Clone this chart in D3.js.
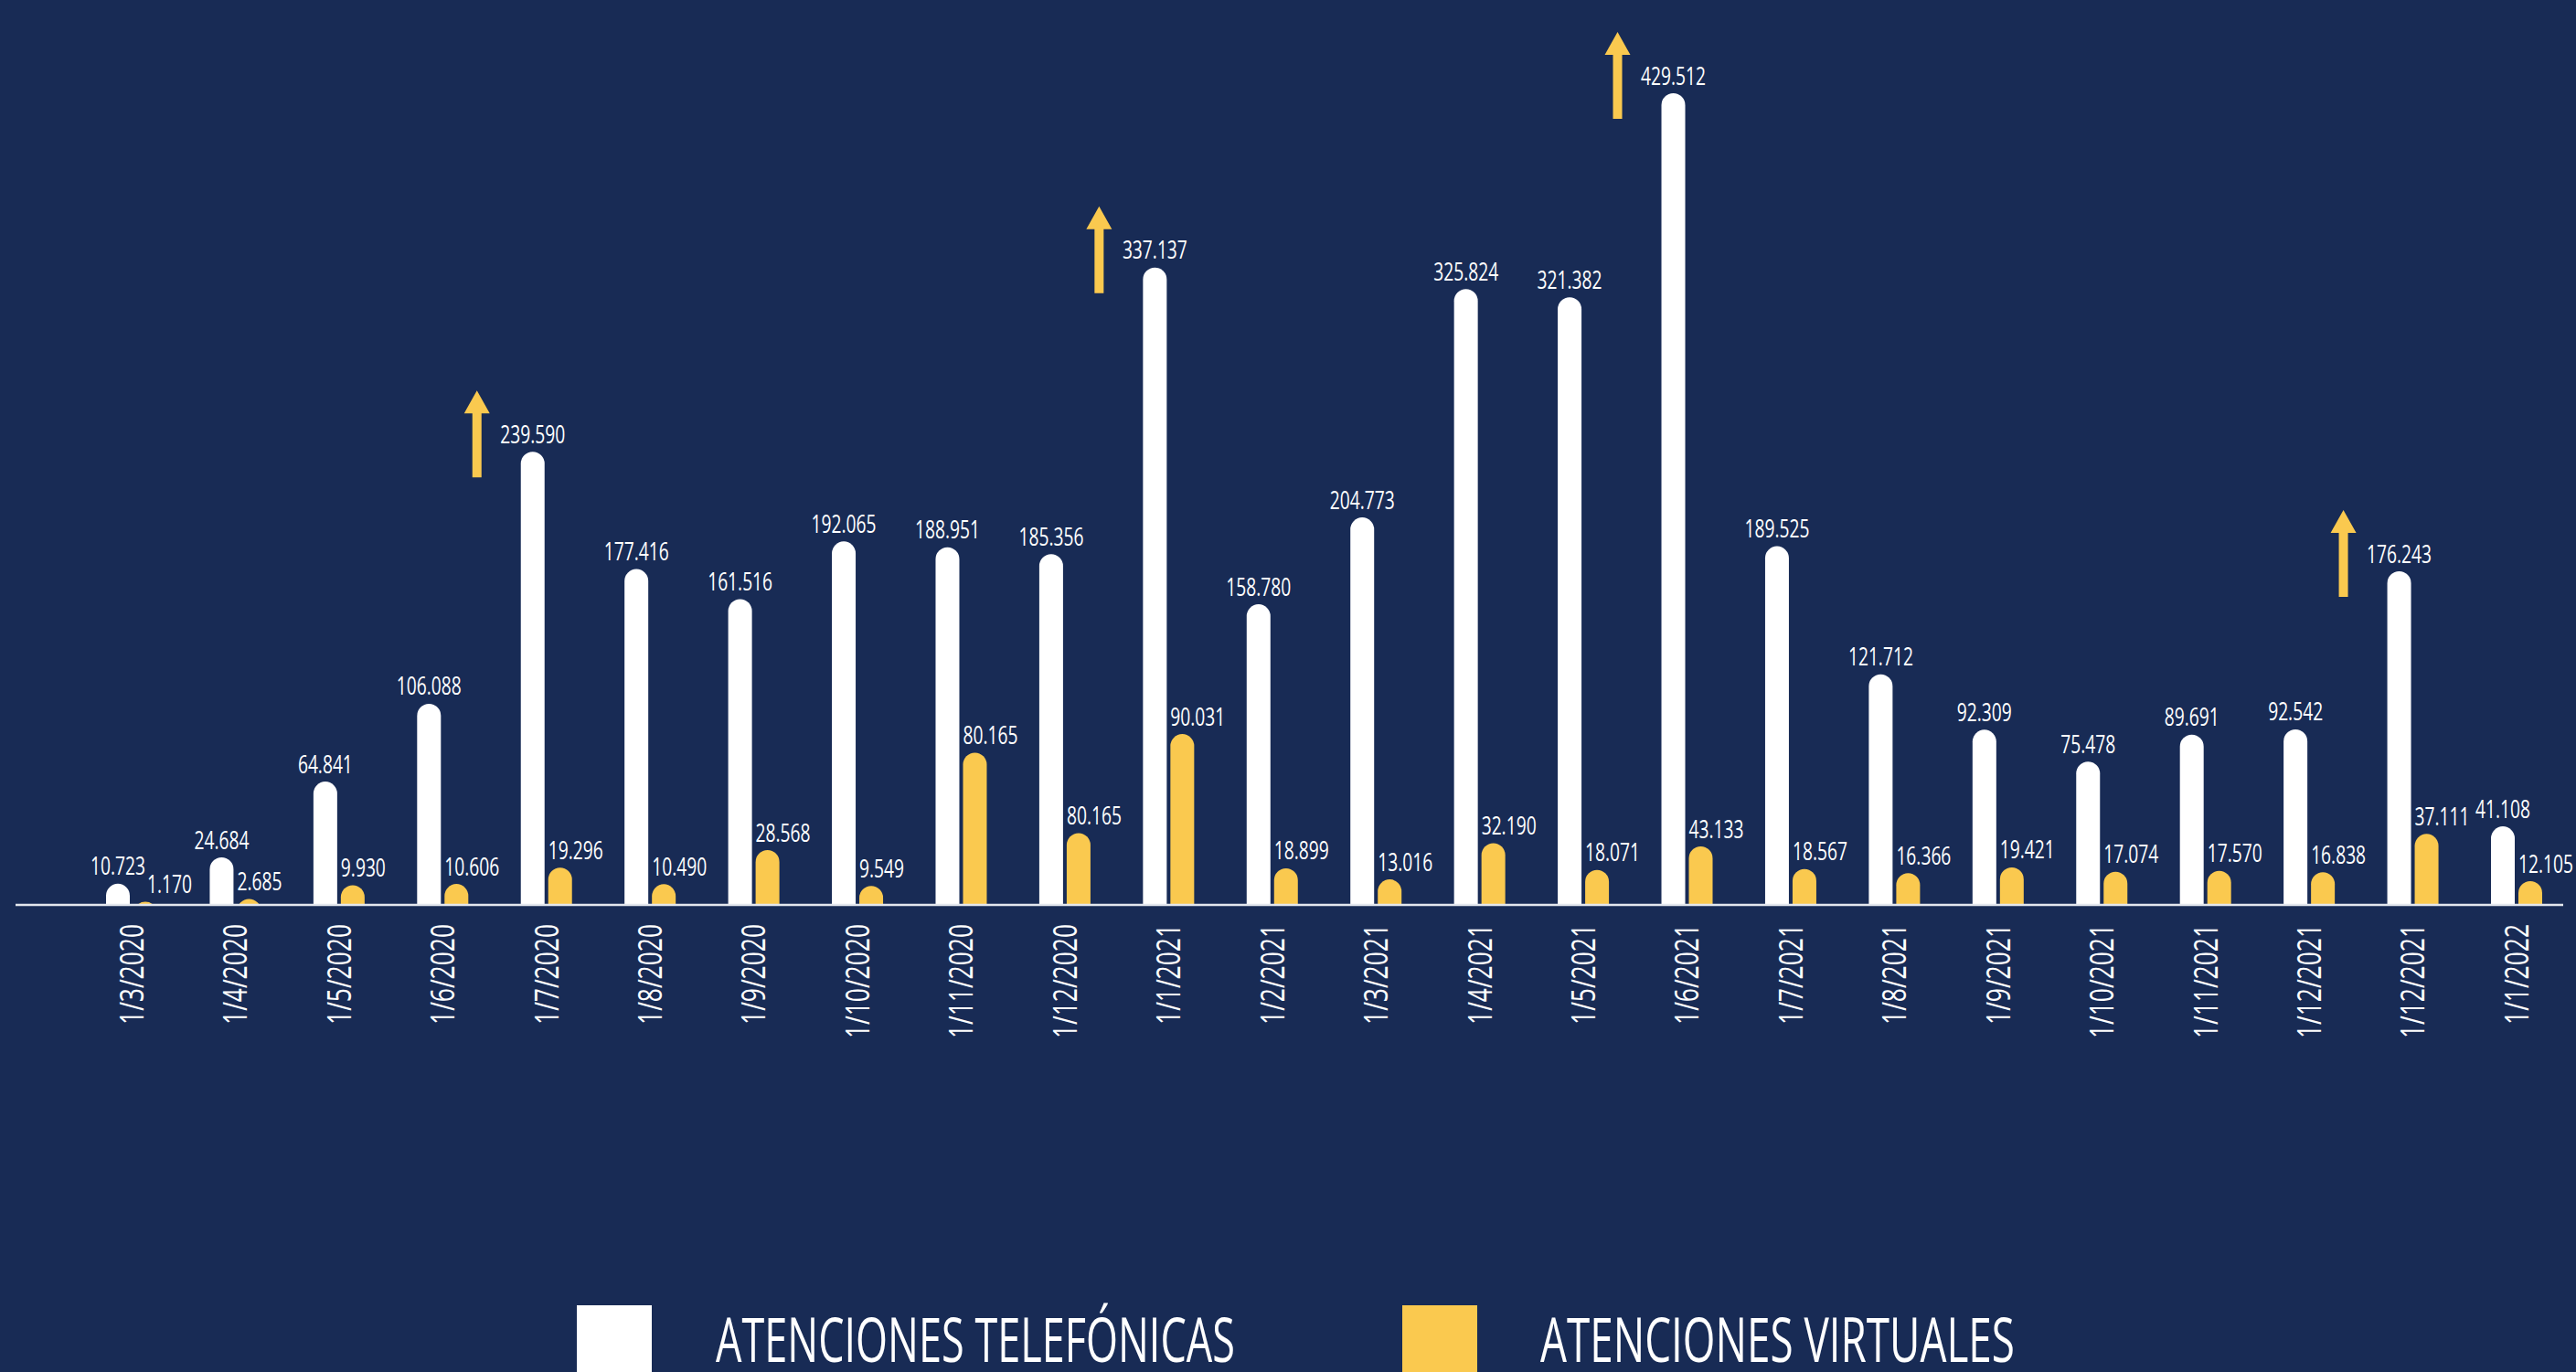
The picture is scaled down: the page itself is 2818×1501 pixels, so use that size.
<!DOCTYPE html>
<html><head><meta charset="utf-8">
<script src="https://cdn.jsdelivr.net/npm/d3@7"></script>
<style>html,body{margin:0;padding:0;background:#182b55;overflow:hidden}</style>
</head><body><svg id="c" width="2818" height="1501"></svg>
<script>
const categories = ["1/3/2020","1/4/2020","1/5/2020","1/6/2020","1/7/2020","1/8/2020","1/9/2020","1/10/2020","1/11/2020","1/12/2020","1/1/2021","1/2/2021","1/3/2021","1/4/2021","1/5/2021","1/6/2021","1/7/2021","1/8/2021","1/9/2021","1/10/2021","1/11/2021","1/12/2021","1/12/2021","1/1/2022"];
const telefonicas = [10723,24684,64841,106088,239590,177416,161516,192065,188951,185356,337137,158780,204773,325824,321382,429512,189525,121712,92309,75478,89691,92542,176243,41108];
// bar heights of the virtual series as drawn in the picture
const virtuales = [1170,2685,9930,10606,19296,10490,28568,9549,80165,37500,90031,18899,13016,32190,18071,30500,18567,16366,19421,17074,17570,16838,37111,12105];
// printed labels of the virtual series
const virtualesLabels = ["1.170","2.685","9.930","10.606","19.296","10.490","28.568","9.549","80.165","80.165","90.031","18.899","13.016","32.190","18.071","43.133","18.567","16.366","19.421","17.074","17.570","16.838","37.111","12.105"];
const arrowIndex = [4,10,15,22];
const seriesNames = ["ATENCIONES TELEFÓNICAS","ATENCIONES VIRTUALES"];

const COL = {bg:"#182b55", tel:"#ffffff", vir:"#fac94f", axis:"#e3e7ee", text:"#ffffff"};
const FONT = "'Open Sans', 'Noto Sans', sans-serif";
const WEIGHT = 500;
const W = 2818, H = 1501;
const svg = d3.select("#c");
svg.append("rect").attr("width", W).attr("height", H).attr("fill", COL.bg);

const baseY = 989;
const x = d3.scalePoint().domain(d3.range(categories.length)).range([144, 2753]);
const y = d3.scaleLinear().domain([0, 429512]).range([baseY, 102]);
const barW = 26, off = 15;
const fmt = d3.formatLocale({decimal: ",", thousands: ".", grouping: [3], currency: ["", ""]}).format(",d");

function textWidth(sample, size) {
  const t = svg.append("text").attr("font-family", FONT).attr("font-weight", WEIGHT).attr("font-size", size).text(sample);
  const w = t.node().getComputedTextLength();
  t.remove();
  return w;
}
const valSize = 28, tickSize = 37, legSize = 68;
const valScale = 60 / textWidth("10.723", valSize);
const tickScale = 110 / textWidth("1/3/2020", tickSize);

svg.append("defs").append("clipPath").attr("id", "clipBase")
  .append("rect").attr("x", 0).attr("y", 0).attr("width", W).attr("height", baseY);

const bars = svg.append("g").attr("clip-path", "url(#clipBase)");
bars.selectAll("rect.tel").data(telefonicas).join("rect").attr("class", "tel")
  .attr("x", (d, i) => x(i) - off - barW / 2)
  .attr("y", d => y(d))
  .attr("width", barW)
  .attr("height", d => baseY - y(d) + barW)
  .attr("rx", barW / 2)
  .attr("fill", COL.tel);
bars.selectAll("rect.vir").data(virtuales).join("rect").attr("class", "vir")
  .attr("x", (d, i) => x(i) + off - barW / 2)
  .attr("y", d => y(d))
  .attr("width", barW)
  .attr("height", d => baseY - y(d) + barW)
  .attr("rx", barW / 2)
  .attr("fill", COL.vir);

// axis line
svg.append("line").attr("x1", 17).attr("x2", 2804).attr("y1", baseY + 1).attr("y2", baseY + 1)
  .attr("stroke", COL.axis).attr("stroke-width", 2.5);

// value labels
const labels = svg.append("g").attr("font-family", FONT).attr("font-weight", WEIGHT)
  .attr("font-size", valSize).attr("fill", COL.text);
const whiteRight = telefonicas.map((d, i) => x(i) - off + textWidth(fmt(d), valSize) * valScale / 2);
labels.selectAll("text.tel").data(telefonicas).join("text").attr("class", "tel")
  .attr("text-anchor", "middle")
  .attr("transform", (d, i) => `translate(${x(i) - off},${y(d) - 9.5}) scale(${valScale},1)`)
  .text(d => fmt(d));
labels.selectAll("text.vir").data(virtuales).join("text").attr("class", "vir")
  .attr("text-anchor", "start")
  .attr("transform", (d, i) => {
    let lx = x(i) + off - barW / 2;
    if (Math.abs(y(d) - y(telefonicas[i])) < 24) lx = Math.max(lx, whiteRight[i] + 2);
    return `translate(${lx},${y(d) - 9.5}) scale(${valScale},1)`;
  })
  .text((d, i) => virtualesLabels[i]);

// x axis
const xAxis = d3.axisBottom(x).tickSize(0).tickFormat(i => categories[i]);
const gx = svg.append("g").attr("transform", `translate(0,${baseY + 1})`).call(xAxis);
gx.select(".domain").remove();
gx.selectAll("text")
  .attr("font-family", FONT).attr("font-weight", WEIGHT).attr("font-size", tickSize).attr("fill", COL.text)
  .attr("x", 0).attr("y", 0).attr("dy", null)
  .attr("text-anchor", "end").attr("dominant-baseline", "central")
  .attr("transform", `translate(-2,21) rotate(-90) scale(${tickScale},1)`);

// arrows
const arrowPath = (cx, tip) => {
  const hw = 14, sw = 5, hh = 25, len = 95;
  return `M${cx},${tip} L${cx + hw},${tip + hh} L${cx + sw},${tip + hh} L${cx + sw},${tip + len} L${cx - sw},${tip + len} L${cx - sw},${tip + hh} L${cx - hw},${tip + hh} Z`;
};
svg.append("g").selectAll("path").data(arrowIndex).join("path")
  .attr("d", i => arrowPath(x(i) - off - 61, y(telefonicas[i]) - 67))
  .attr("fill", COL.vir);

// legend
const legX = [631, 1534], legTextX = [783, 1685], legW = [568, 519];
const leg = svg.append("g");
seriesNames.forEach((name, k) => {
  leg.append("rect").attr("x", legX[k]).attr("y", 1428).attr("width", 82).attr("height", 90)
    .attr("fill", k === 0 ? COL.tel : COL.vir);
  const s = legW[k] / textWidth(name, legSize);
  leg.append("text").attr("font-family", FONT).attr("font-weight", WEIGHT).attr("font-size", legSize).attr("fill", COL.text)
    .attr("transform", `translate(${legTextX[k]},1490) scale(${s},1)`)
    .text(name);
});
</script>
</body></html>
